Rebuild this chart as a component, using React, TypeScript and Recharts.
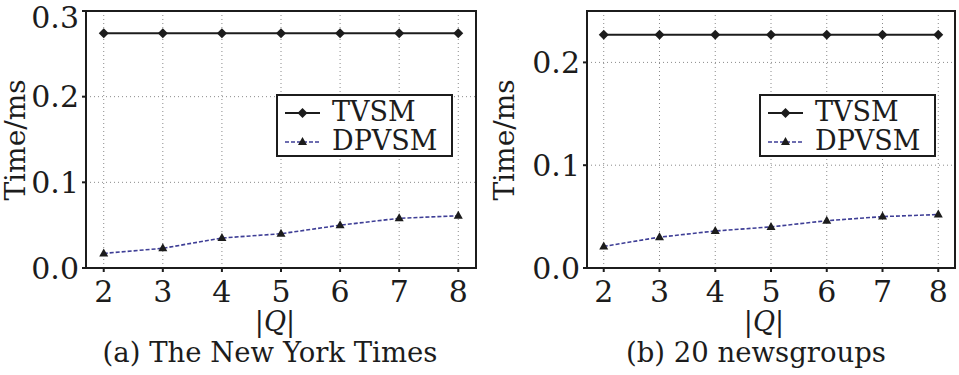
import { LineChart, Line, XAxis, YAxis, CartesianGrid, ReferenceArea, Legend } from "recharts";

const queries = [2, 3, 4, 5, 6, 7, 8];

const nytTvsm = [0.274, 0.274, 0.274, 0.274, 0.274, 0.274, 0.274];
const nytDpvsm = [0.017, 0.023, 0.035, 0.040, 0.050, 0.058, 0.061];

const ngTvsm = [0.227, 0.227, 0.227, 0.227, 0.227, 0.227, 0.227];
const ngDpvsm = [0.021, 0.030, 0.036, 0.040, 0.046, 0.050, 0.052];

const nytTicks = [0, 0.1, 0.2, 0.3];
const ngTicks = [0, 0.1, 0.2];

const FONT = "'DejaVu Serif', serif";
const INK = "#1c1c1c";
const BLUE = "#3e3e96";

const diamond = (props: any) => {
  const { cx, cy } = props;
  if (cx == null || cy == null) return null;
  return <path d={`M${cx},${cy - 5}L${cx + 5},${cy}L${cx},${cy + 5}L${cx - 5},${cy}Z`} fill={INK} />;
};

const triangle = (props: any) => {
  const { cx, cy } = props;
  if (cx == null || cy == null) return null;
  return <path d={`M${cx},${cy - 5}L${cx + 4.5},${cy + 3}L${cx - 4.5},${cy + 3}Z`} fill={INK} />;
};

function LegendBox() {
  return (
    <div
      style={{
        width: 177,
        height: 63,
        boxSizing: "border-box",
        border: `2px solid ${INK}`,
        background: "#fff",
        position: "relative",
        fontFamily: FONT,
        fontSize: 27,
        color: INK,
      }}
    >
      <svg width={50} height={63} style={{ position: "absolute", left: 0, top: -2 }}>
        <line x1={7} y1={19} x2={42} y2={19} stroke={INK} strokeWidth={2} />
        <path d="M24.5,14L29.5,19L24.5,24L19.5,19Z" fill={INK} />
        <line x1={7} y1={48} x2={42} y2={48} stroke={BLUE} strokeWidth={1.6} strokeDasharray="4 2" />
        <path d="M24.5,43L29,51L20,51Z" fill={INK} />
      </svg>
      <div style={{ position: "absolute", left: 54, top: 1, lineHeight: "30px" }}>TVSM</div>
      <div style={{ position: "absolute", left: 54, top: 30, lineHeight: "30px" }}>DPVSM</div>
    </div>
  );
}

interface PanelProps {
  width: number;
  yWidth: number;
  tvsm: number[];
  dpvsm: number[];
  yMax: number;
  yTicks: number[];
  legendLeft: number;
}

function Panel({ width, yWidth, tvsm, dpvsm, yMax, yTicks, legendLeft }: PanelProps) {
  const data = queries.map((q, i) => ({ q, tvsm: tvsm[i], dpvsm: dpvsm[i] }));
  return (
    <LineChart width={width} height={375} data={data} margin={{ top: 11, right: 4, bottom: 77, left: 0 }}>
      <CartesianGrid stroke="#8a8a8a" strokeDasharray="1 3" />
      <XAxis
        dataKey="q"
        type="number"
        domain={[1.7, 8.3]}
        ticks={queries}
        allowDataOverflow
        height={30}
        tickSize={4}
        tickMargin={9}
        stroke={INK}
        strokeWidth={2}
        tick={{ fill: INK, fontSize: 30, fontFamily: FONT }}
      />
      <YAxis
        type="number"
        domain={[0, yMax]}
        ticks={yTicks}
        allowDataOverflow
        width={yWidth}
        tickSize={4}
        tickMargin={3}
        stroke={INK}
        strokeWidth={2}
        tickFormatter={(v: number) => v.toFixed(1)}
        tick={{ fill: INK, fontSize: 30, fontFamily: FONT }}
      />
      <ReferenceArea x1={1.7} x2={8.3} y1={0} y2={yMax} fill="none" stroke={INK} strokeWidth={2} ifOverflow="visible" />
      <Line dataKey="tvsm" stroke={INK} strokeWidth={2} dot={diamond} isAnimationActive={false} />
      <Line dataKey="dpvsm" stroke={BLUE} strokeWidth={1.6} strokeDasharray="4 2" dot={triangle} isAnimationActive={false} />
      <Legend
        layout="horizontal"
        verticalAlign="middle"
        align="center"
        content={() => <LegendBox />}
        wrapperStyle={{ left: legendLeft, top: 94, width: 177, height: 63 }}
      />
    </LineChart>
  );
}

const textStyle: React.CSSProperties = {
  position: "absolute",
  fontFamily: FONT,
  color: INK,
  whiteSpace: "nowrap",
  lineHeight: 1,
};

function YLabel({ cx, cy }: { cx: number; cy: number }) {
  return (
    <div
      style={{
        ...textStyle,
        fontSize: 28,
        left: cx,
        top: cy,
        transform: "translate(-50%, -50%) rotate(-90deg)",
      }}
    >
      Time/ms
    </div>
  );
}

function Caption({ cx, top, children, size }: { cx: number; top: number; children: any; size: number }) {
  return (
    <div style={{ ...textStyle, fontSize: size, left: cx, top, transform: "translateX(-50%)" }}>{children}</div>
  );
}

export default function App() {
  return (
    <div style={{ position: "absolute", left: 0, top: 0, width: 959, height: 375, background: "#fff" }}>
      <div style={{ position: "absolute", left: 0, top: 0 }}>
        <Panel width={480} yWidth={86} tvsm={nytTvsm} dpvsm={nytDpvsm} yMax={0.3} yTicks={nytTicks} legendLeft={276} />
      </div>
      <div style={{ position: "absolute", left: 480, top: 0 }}>
        <Panel width={479} yWidth={107} tvsm={ngTvsm} dpvsm={ngDpvsm} yMax={0.25} yTicks={ngTicks} legendLeft={279} />
      </div>
      <YLabel cx={16} cy={140} />
      <YLabel cx={505} cy={140} />
      <Caption cx={275} top={308} size={27}>
        |<span style={{ fontStyle: "italic" }}>Q</span>|
      </Caption>
      <Caption cx={764} top={308} size={27}>
        |<span style={{ fontStyle: "italic" }}>Q</span>|
      </Caption>
      <Caption cx={270} top={339} size={27.5}>(a) The New York Times</Caption>
      <Caption cx={756} top={339} size={27.5}>(b) 20 newsgroups</Caption>
    </div>
  );
}
